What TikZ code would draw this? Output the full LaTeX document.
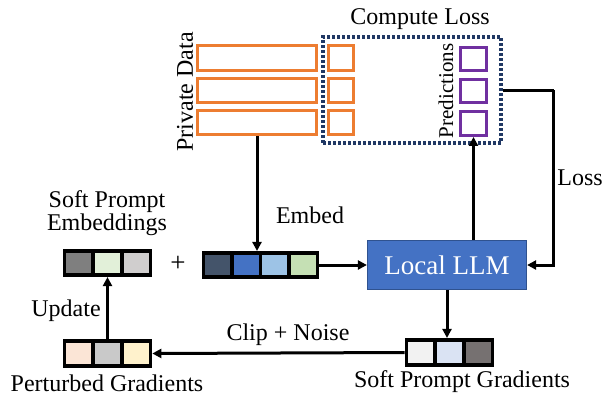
\documentclass[tikz,border=0pt]{standalone}
\usepackage{fontspec}
\setmainfont{Liberation Serif}
\usetikzlibrary{arrows.meta}
\definecolor{orng}{HTML}{ED7D31}
\definecolor{purp}{HTML}{7030A0}
\definecolor{navy}{HTML}{203864}
\definecolor{llmblue}{HTML}{4472C4}
\definecolor{llmedge}{HTML}{2F528F}
\definecolor{eA}{HTML}{44546A}
\definecolor{eB}{HTML}{4472C4}
\definecolor{eC}{HTML}{9DC3E6}
\definecolor{eD}{HTML}{C5E0B4}
\definecolor{sA}{HTML}{7F7F7F}
\definecolor{sB}{HTML}{E2F0D9}
\definecolor{sC}{HTML}{D0CECE}
\definecolor{pA}{HTML}{FBE5D6}
\definecolor{pB}{HTML}{C9C9C9}
\definecolor{pC}{HTML}{FFF2CC}
\definecolor{gA}{HTML}{F2F2F2}
\definecolor{gB}{HTML}{DAE3F3}
\definecolor{gC}{HTML}{767171}
\tikzset{
  lbl/.style={font=\fontsize{24}{26}\selectfont, inner sep=0pt},
  cell/.style={draw=black, line width=3.6pt, minimum height=24.5pt, inner sep=0pt},
  datbox/.style={draw=orng, line width=3.4pt, minimum height=24.5pt, inner sep=0pt},
  predbox/.style={draw=purp, line width=3.4pt, minimum height=23.5pt, minimum width=25.5pt, inner sep=0pt},
  arr/.style={line width=3pt, -{Triangle[length=9pt,width=9pt]}},
  ln/.style={line width=3pt},
}
\begin{document}
\begin{tikzpicture}[x=1pt,y=-1pt]
\useasboundingbox (0,0) rectangle (610,397);
% private data
\node[datbox, minimum width=118.5pt] (d1) at (257,58) {};
\node[datbox, minimum width=118.5pt] (d2) at (257,90.5) {};
\node[datbox, minimum width=118.5pt] (d3) at (257,122.5) {};
\node[datbox, minimum width=24.5pt] (l1) at (341,58) {};
\node[datbox, minimum width=24.5pt] (l2) at (341,90.5) {};
\node[datbox, minimum width=24.5pt] (l3) at (341,122.5) {};
\node[lbl, rotate=90] (pdlab) at (185,92) {Private Data};
% compute loss
\node[draw=navy, line width=3.2pt, dash pattern=on 2.6pt off 2.4pt, minimum width=178pt, minimum height=106pt, inner sep=0pt] (cl) at (412,90) {};
\node[lbl] (cllab) at (420,19) {Compute Loss};
\node[predbox] (p1) at (473.5,59) {};
\node[predbox] (p2) at (473.5,91) {};
\node[predbox] (p3) at (473.5,123.5) {};
\node[font=\fontsize{21}{23}\selectfont, inner sep=0pt, rotate=90] (predlab) at (446,91) {Predictions};
% embed row
\node[cell, fill=eA, minimum width=28.5pt] (e1) at (217.75,265) {};
\node[cell, fill=eB, minimum width=28.5pt] (e2) at (246.25,265) {};
\node[cell, fill=eC, minimum width=28.5pt] (e3) at (274.75,265) {};
\node[cell, fill=eD, minimum width=28.5pt] (e4) at (303.25,265) {};
\node[lbl] (emblab) at (310,215) {Embed};
\node[lbl, font=\fontsize{27}{29}\selectfont] (plus) at (178,264) {+};
% soft prompt embeddings
\node[cell, fill=sA, minimum width=28.67pt] (s1) at (78.8,263) {};
\node[cell, fill=sB, minimum width=28.67pt] (s2) at (107.5,263) {};
\node[cell, fill=sC, minimum width=28.67pt] (s3) at (136.2,263) {};
\node[lbl, align=center, text depth=0pt] (spelab) at (107,211) {Soft Prompt\\[-3pt]Embeddings};
% perturbed gradients
\node[cell, fill=pA, minimum width=28.67pt, minimum height=25.5pt] (q1) at (78.8,353.5) {};
\node[cell, fill=pB, minimum width=28.67pt, minimum height=25.5pt] (q2) at (107.5,353.5) {};
\node[cell, fill=pC, minimum width=28.67pt, minimum height=25.5pt] (q3) at (136.2,353.5) {};
\node[lbl] (pglab) at (107,383) {Perturbed Gradients};
% soft prompt gradients
\node[cell, fill=gA, minimum width=28.67pt, minimum height=25.5pt] (g1) at (420.8,352.5) {};
\node[cell, fill=gB, minimum width=28.67pt, minimum height=25.5pt] (g2) at (449.5,352.5) {};
\node[cell, fill=gC, minimum width=28.67pt, minimum height=25.5pt] (g3) at (478.2,352.5) {};
\node[lbl] (sglab) at (462,382) {Soft Prompt Gradients};
% LLM
\node[draw=llmedge, line width=1.2pt, fill=llmblue, minimum width=159pt, minimum height=49pt, text=white, font=\fontsize{27}{29}\selectfont] (llm) at (447,265) {Local LLM};
% labels
\node[lbl] (losslab) at (580,178) {Loss};
\node[lbl] (cnlab) at (288,335) {Clip + Noise};
\node[lbl] (uplab) at (66,311) {Update};
% connectors
\draw[arr] (d3.south) -- (d3.south |- e2.north);
\draw[arr] (e4.east) -- (llm.west);
\draw[arr] (p3.south |- llm.north) -- (p3.south);
\draw[ln] (cl.east) -- ++(51,0) coordinate (lc);
\draw[arr] (lc) |- (llm.east);
\draw[arr] (llm.south) -- (llm.south |- g2.north);
\draw[arr] (g1.west) -- (q3.east);
\draw[arr] (q2.north) -- (s2.south);
\end{tikzpicture}
\end{document}
